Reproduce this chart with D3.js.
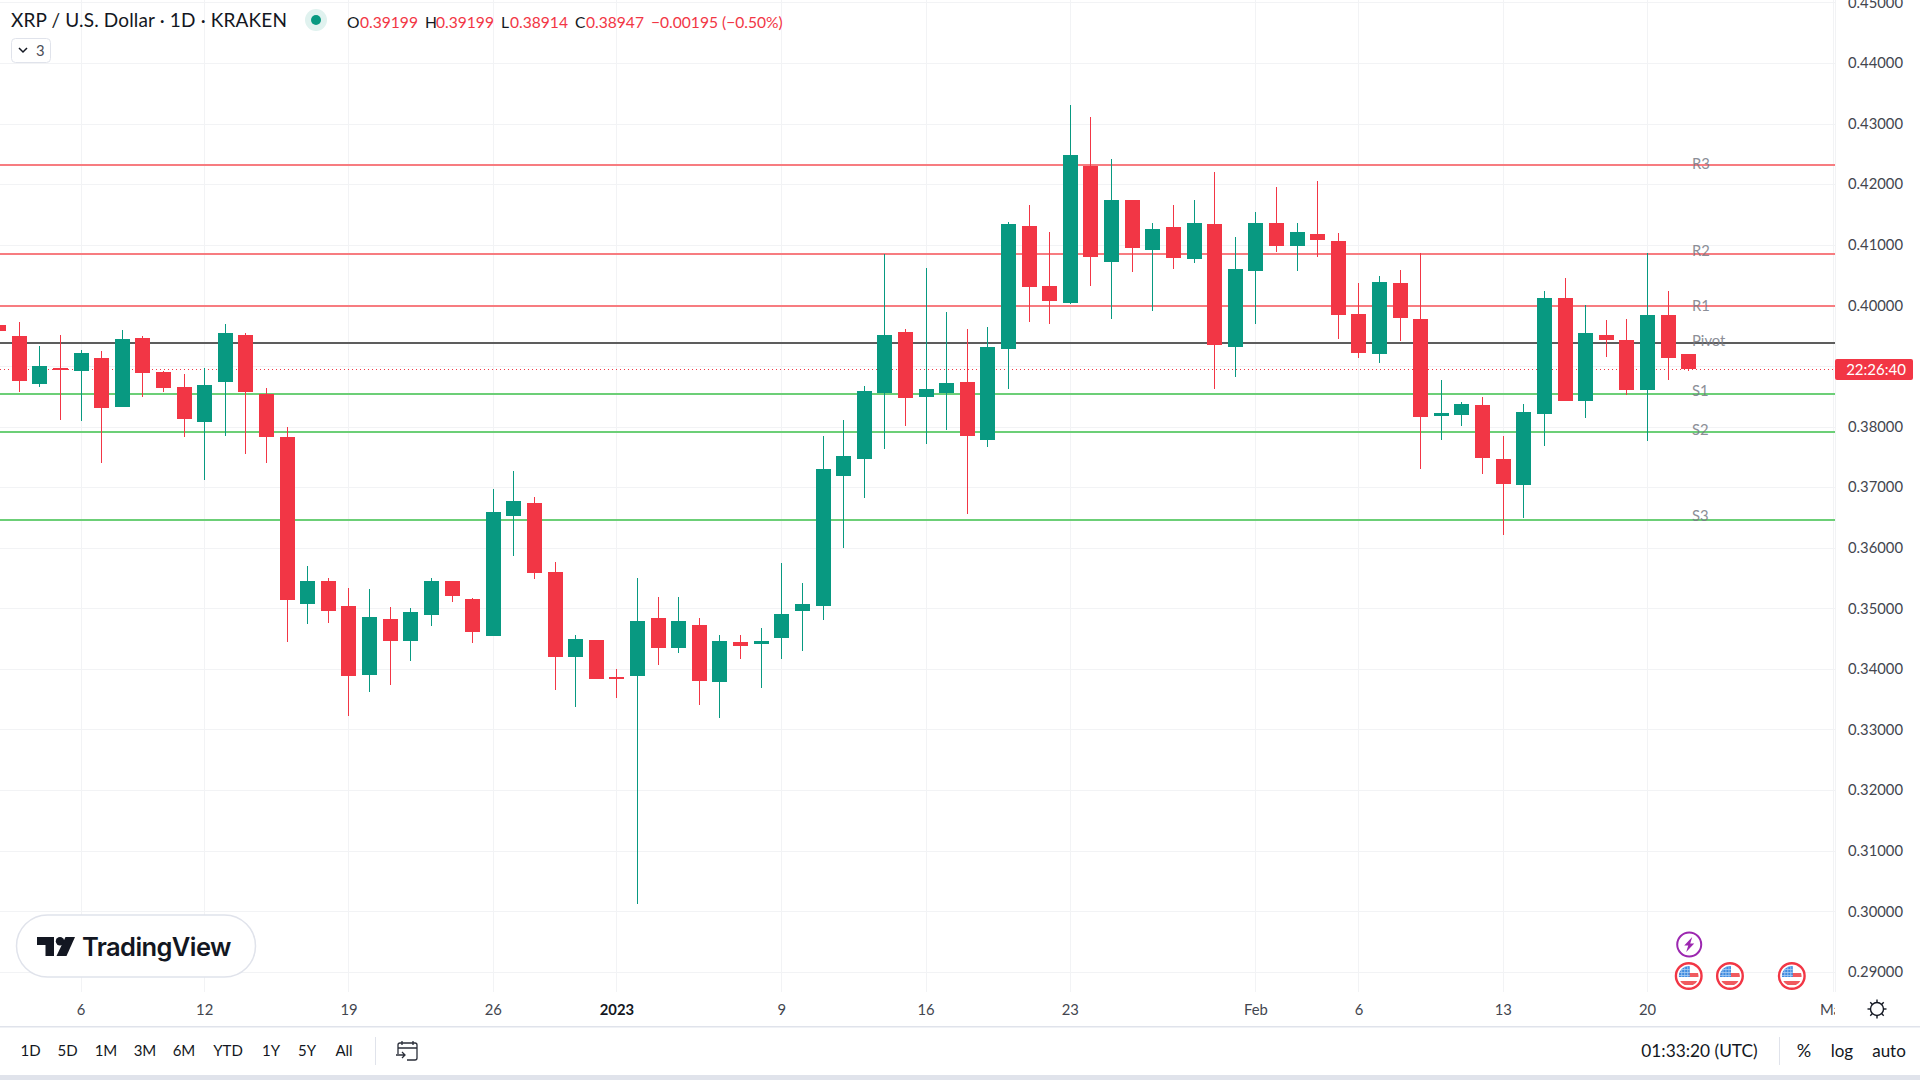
<!DOCTYPE html>
<meta charset="utf-8" />
<html>
<head>
<script src="https://d3js.org/d3.v7.min.js"></script>
<style>
    html, body { margin: 0; padding: 0; background: #fff; overflow: hidden; }
    svg { display: block; }
    text { font-family: "Lato", "Open Sans", sans-serif; fill: #131722; }
    .price text, .time text { fill: #43464f; font-size: 14.8px; }
    .time text.bold { font-weight: 700; fill: #131722; }
    .btn { font-size: 15px; }
</style>
</head>
<body>
<svg id="chart" width="1920" height="1080"></svg>
<script>
// daily candles 2 Dec 2022 .. 22 Feb 2023
const opens = [0.39675,0.39493,0.38701,0.38965,0.38921,0.39130,0.38322,0.39460,0.38899,0.38652,
    0.38074,0.38734,0.39510,0.38536,0.37827,0.35071,0.35451,0.35038,0.33899,0.34823,
    0.34460,0.34889,0.35451,0.35153,0.34543,0.36523,0.36738,0.35599,0.34196,0.34477,
    0.33866,0.33878,0.34832,0.34352,0.34717,0.33780,0.34437,0.34419,0.34504,0.34960,
    0.35045,0.37179,0.37459,0.38553,0.39559,0.38487,0.38553,0.38734,0.37777,0.39279,
    0.41308,0.40318,0.40037,0.42299,0.40714,0.41738,0.40912,0.41292,0.40764,0.41342,
    0.39312,0.40566,0.41358,0.40978,0.41177,0.41061,0.39856,0.39196,0.40368,0.39774,
    0.38173,0.38190,0.38355,0.37464,0.37035,0.38206,0.40120,0.38421,0.39510,0.39427,
    0.38602,0.39840,0.39199];
const highs = [0.39675,0.39724,0.39328,0.39510,0.39262,0.39246,0.39592,0.39493,0.38916,0.38866,
    0.38960,0.39691,0.39543,0.38635,0.37992,0.35698,0.35500,0.35335,0.35318,0.35022,
    0.35005,0.35500,0.35451,0.35170,0.36969,0.37266,0.36837,0.35764,0.34559,0.34477,
    0.34002,0.35507,0.35179,0.35191,0.34844,0.34565,0.34565,0.34680,0.35750,0.35422,
    0.37836,0.38103,0.38663,0.40846,0.39609,0.40615,0.39889,0.39609,0.39642,0.41381,
    0.41655,0.41210,0.43305,0.43107,0.42414,0.41738,0.41358,0.41655,0.41738,0.42200,
    0.41127,0.41540,0.41952,0.41358,0.42051,0.41193,0.40368,0.40483,0.40582,0.40863,
    0.38767,0.38404,0.38487,0.37843,0.38371,0.40236,0.40451,0.40002,0.39757,0.39774,
    0.40858,0.40236,0.39199];
const lows = [0.39576,0.38575,0.38652,0.38107,0.38091,0.37398,0.38322,0.38487,0.38569,0.37827,
    0.37117,0.37843,0.37546,0.37398,0.34444,0.34741,0.34757,0.33223,0.33619,0.33734,
    0.34130,0.34708,0.35104,0.34427,0.34543,0.35863,0.35484,0.33652,0.33371,0.33833,
    0.33520,0.30114,0.34060,0.34255,0.33403,0.33185,0.34157,0.33677,0.34157,0.34303,
    0.34814,0.35999,0.36820,0.37629,0.38008,0.37711,0.37942,0.36559,0.37662,0.38619,
    0.39724,0.39691,0.40021,0.40318,0.39774,0.40549,0.39906,0.40599,0.40698,0.38619,
    0.38817,0.39691,0.40879,0.40566,0.40797,0.39444,0.39130,0.39048,0.39411,0.37299,
    0.37777,0.38008,0.37216,0.36210,0.36490,0.37678,0.38421,0.38140,0.39147,0.38520,
    0.37761,0.38767,0.38914];
const closes = [0.39576,0.38756,0.38998,0.38932,0.39213,0.38305,0.39444,0.38883,0.38636,0.38124,
    0.38685,0.39543,0.38569,0.37827,0.35137,0.35451,0.34955,0.33883,0.34856,0.34460,
    0.34939,0.35451,0.35203,0.34609,0.36589,0.36771,0.35583,0.34196,0.34493,0.33833,
    0.33833,0.34796,0.34352,0.34784,0.33793,0.34467,0.34370,0.34455,0.34911,0.35076,
    0.37295,0.37507,0.38578,0.39510,0.38470,0.38619,0.38718,0.37843,0.39312,0.41341,
    0.40302,0.40071,0.42480,0.40797,0.41738,0.40945,0.41259,0.40781,0.41358,0.39345,
    0.40599,0.41358,0.40978,0.41210,0.41078,0.39840,0.39213,0.40384,0.39790,0.38157,
    0.38223,0.38371,0.37480,0.37051,0.38239,0.40120,0.38421,0.39543,0.39427,0.38602,
    0.39840,0.39130,0.38947];

const priceTicks = [0.29,0.30,0.31,0.32,0.33,0.34,0.35,0.36,0.37,0.38,0.39,0.40,0.41,0.42,0.43,0.44,0.45];
const timeTickDates = ["2022-12-06","2022-12-12","2022-12-19","2022-12-26","2023-01-01","2023-01-09",
    "2023-01-16","2023-01-23","2023-02-01","2023-02-06","2023-02-13","2023-02-20","2023-03-01"];
const timeTickLabels = ["6","12","19","26","2023","9","16","23","Feb","6","13","20","Mar"];

const pivotNames = ["R3","R2","R1","Pivot","S1","S2","S3"];
const pivotValues = [0.42315,0.40846,0.39989,0.39378,0.38537,0.37910,0.36457];
const pivotColors = ["#f77c80","#f77c80","#f77c80","#5d5d5d","#6ccf77","#6ccf77","#6ccf77"];

const lastPrice = 0.38947;
const countdown = "22:26:40";
const flagDates = ["2023-02-22","2023-02-24","2023-02-27"];
const boltDates = ["2023-02-22"];

const rangeButtons = ["1D","5D","1M","3M","6M","YTD","1Y","5Y","All"];
const rangeCenters = [30.5,67.5,106,145,184,228,271,307,344];

const green = "#089981", red = "#f23645", gridColor = "#f2f3f5", borderColor = "#e0e3eb";
const plotW = 1835, plotH = 992;

const parseDay = d3.utcParse("%Y-%m-%d");
const days = d3.utcDay.range(parseDay("2022-12-02"), parseDay("2023-02-23"));

const x = d3.scaleUtc().domain([parseDay("2022-12-06"), parseDay("2023-02-20")]).range([80.5, 1647]);
const y = d3.scaleLinear().domain([0.29, 0.45]).range([971.9, 2.3]);

const svg = d3.select("#chart");
svg.append("defs").append("clipPath").attr("id", "plot")
    .append("rect").attr("width", plotW).attr("height", plotH);
svg.select("defs").append("clipPath").attr("id", "timeclip")
    .append("rect").attr("width", plotW).attr("height", 1080);

const plot = svg.append("g").attr("clip-path", "url(#plot)");

// grid
plot.selectAll(".hgrid").data(priceTicks).enter().append("line")
    .attr("x1", 0).attr("x2", plotW)
    .attr("y1", d => Math.round(y(d)) + 0.5).attr("y2", d => Math.round(y(d)) + 0.5)
    .attr("stroke", gridColor);
plot.selectAll(".vgrid").data(timeTickDates).enter().append("line")
    .attr("y1", 0).attr("y2", plotH)
    .attr("x1", d => Math.round(x(parseDay(d))) + 0.5).attr("x2", d => Math.round(x(parseDay(d))) + 0.5)
    .attr("stroke", gridColor);

// pivot levels, behind the candles
plot.selectAll(".pivot").data(pivotValues).enter().append("line")
    .attr("x1", 0).attr("x2", plotW)
    .attr("y1", d => Math.round(y(d))).attr("y2", d => Math.round(y(d)))
    .attr("stroke", (d, i) => pivotColors[i]).attr("stroke-width", 2);

// last price line
plot.append("line").attr("x1", 0).attr("x2", plotW)
    .attr("y1", Math.round(y(lastPrice)) + 0.5).attr("y2", Math.round(y(lastPrice)) + 0.5)
    .attr("stroke", red).attr("stroke-dasharray", "1 3");

// candles
const bars = plot.append("g").attr("shape-rendering", "crispEdges").selectAll("g").data(days).enter().append("g");
const barColor = (d, i) => closes[i] >= opens[i] ? green : red;
bars.append("line")
    .attr("x1", d => Math.round(x(d)) + 0.5).attr("x2", d => Math.round(x(d)) + 0.5)
    .attr("y1", (d, i) => y(highs[i])).attr("y2", (d, i) => y(lows[i]))
    .attr("stroke", barColor);
bars.append("rect")
    .attr("x", d => Math.round(x(d)) - 7).attr("width", 15)
    .attr("y", (d, i) => y(Math.max(opens[i], closes[i])))
    .attr("height", (d, i) => Math.max(2, y(Math.min(opens[i], closes[i])) - y(Math.max(opens[i], closes[i]))))
    .attr("fill", barColor);

// pivot names, the labels do not sit at a constant distance from their lines
const nameNudge = [4, 2, 5, 3.5, 2, 3, 0.5];
plot.selectAll(".pivotName").data(pivotNames).enter().append("text")
    .attr("x", 1692).attr("y", (d, i) => y(pivotValues[i]) + nameNudge[i])
    .attr("font-size", 14.8).style("fill", "#787b86").style("opacity", 0.85)
    .text(d => d);

// price axis
const priceAxis = svg.append("g").attr("class", "price")
    .attr("transform", "translate(" + plotW + ",0)")
    .call(d3.axisRight(y).tickValues(priceTicks).tickFormat(d3.format(".5f")).tickSize(0).tickPadding(13));
priceAxis.select(".domain").attr("stroke", gridColor).attr("d", "M0.5,0V" + plotH);

// time axis
const timeAxis = svg.append("g").attr("class", "time")
    .attr("clip-path", "url(#timeclip)")
    .attr("transform", "translate(0," + plotH + ")")
    .call(d3.axisBottom(x).tickValues(timeTickDates.map(parseDay))
        .tickFormat((d, i) => timeTickLabels[i]).tickSize(0).tickPadding(12.5));
timeAxis.select(".domain").remove();
timeAxis.selectAll("text").classed("bold", (d, i) => timeTickLabels[i] === "2023");

// countdown tag
svg.append("rect").attr("x", plotW).attr("y", 359).attr("width", 78).attr("height", 21).attr("rx", 2).attr("fill", red);
svg.append("text").attr("x", plotW + 41).attr("y", 374.8).attr("text-anchor", "middle")
    .attr("font-size", 15).style("fill", "#fff").text(countdown);

// event markers
const bolt = svg.selectAll(".bolt").data(boltDates).enter().append("g")
    .attr("transform", d => "translate(" + (x(parseDay(d)) + 1) + ",944.5)");
bolt.append("circle").attr("r", 12).attr("fill", "#fff").attr("stroke", "#9c27b0").attr("stroke-width", 2);
bolt.append("path").attr("d", "M3,-7.5 L-5,1 L-1,1 L-3,7.5 L5,-1 L1,-1 Z").attr("fill", "#9c27b0");

svg.select("defs").append("clipPath").attr("id", "flagclip").append("circle").attr("r", 10);
const flags = svg.selectAll(".flag").data(flagDates).enter().append("g")
    .attr("transform", d => "translate(" + (x(parseDay(d)) + 0.5) + ",976)");
flags.append("circle").attr("r", 12.8).attr("fill", "#fff").attr("stroke", "#f23645").attr("stroke-width", 2.4);
const flagInner = flags.append("g").attr("clip-path", "url(#flagclip)");
flagInner.append("rect").attr("x", -10).attr("y", -3).attr("width", 20).attr("height", 4).attr("fill", "#f05a5f");
flagInner.append("rect").attr("x", -10).attr("y", 5).attr("width", 20).attr("height", 4).attr("fill", "#f05a5f");
flagInner.append("rect").attr("x", -10).attr("y", -10).attr("width", 11).attr("height", 11).attr("fill", "#3d8be0");
flagInner.selectAll("line").data([-7, -4, -1]).enter().append("line")
    .attr("x1", d => d).attr("x2", d => d).attr("y1", -10).attr("y2", 1)
    .attr("stroke", "#a9cdf2").attr("stroke-width", 0.8);
flagInner.selectAll("path").data([-6.5, -3.5, -0.5]).enter().append("path")
    .attr("d", d => "M-10," + d + "H1").attr("stroke", "#a9cdf2").attr("stroke-width", 0.8);

// header
const title = svg.append("g");
title.append("text").attr("x", 11).attr("y", 27).attr("font-size", 19).style("letter-spacing", "0.15px").text("XRP / U.S. Dollar · 1D · KRAKEN");
title.append("circle").attr("cx", 316).attr("cy", 20).attr("r", 11).attr("fill", "#e0f2ef");
title.append("circle").attr("cx", 316).attr("cy", 20).attr("r", 5).attr("fill", green);

const ohlcLabels = ["O","H","L","C"];
const ohlcValues = ["0.39199","0.39199","0.38914","0.38947"];
const ohlcX = [347,425,501,575];
const ohlcValueX = [360,436,510,586];
ohlcLabels.forEach(function(l, i) {
    title.append("text").attr("x", ohlcX[i]).attr("y", 27.5).attr("font-size", 15.6).text(l);
    title.append("text").attr("x", ohlcValueX[i]).attr("y", 27.5).attr("font-size", 15.6).style("fill", red).text(ohlcValues[i]);
});
title.append("text").attr("x", 651).attr("y", 27.5).attr("font-size", 15.6).style("fill", red).text("−0.00195 (−0.50%)");

title.append("rect").attr("x", 11.5).attr("y", 38.5).attr("width", 39).attr("height", 24).attr("rx", 4)
    .attr("fill", "#fff").attr("stroke", borderColor);
title.append("path").attr("d", "M19,48 L23,52 L27,48").attr("fill", "none").attr("stroke", "#131722").attr("stroke-width", 1.5);
title.append("text").attr("x", 36).attr("y", 55.5).attr("font-size", 14.8).style("fill", "#4a4d57").text("3");

// logo
const logo = svg.append("g");
logo.append("rect").attr("x", 16.5).attr("y", 915).attr("width", 239).attr("height", 62).attr("rx", 31)
    .attr("fill", "#fff").attr("stroke", borderColor).attr("stroke-width", 1.5);
logo.append("path").attr("d", "M37,937 H54 V956 H45.5 V945 H37 Z").attr("fill", "#131722");
logo.append("circle").attr("cx", 60).attr("cy", 941.2).attr("r", 4.2).attr("fill", "#131722");
logo.append("path").attr("d", "M65.5,937 H75 L66.5,956 H56.5 Z").attr("fill", "#131722");
logo.append("text").attr("x", 82).attr("y", 956).attr("font-size", 25.5).attr("font-weight", 600)
    .style("font-family", "Inter").style("letter-spacing", "-0.6px").text("TradingView");

// gear
const gear = svg.append("g").attr("transform", "translate(1877,1009)")
    .attr("fill", "none").attr("stroke", "#131722").attr("stroke-width", 1.4);
gear.append("circle").attr("r", 6.5);
gear.selectAll("line").data(d3.range(0, 360, 45)).enter().append("line")
    .attr("y1", -6.5).attr("y2", -9.5).attr("transform", d => "rotate(" + d + ")");

// bottom toolbar
svg.append("rect").attr("x", 0).attr("y", 1026).attr("width", 1920).attr("height", 1.5).attr("fill", borderColor);
svg.append("rect").attr("x", 0).attr("y", 1075).attr("width", 1920).attr("height", 5).attr("fill", borderColor);
svg.append("rect").attr("x", 375).attr("y", 1037).attr("width", 1).attr("height", 28).attr("fill", borderColor);
svg.append("rect").attr("x", 1779).attr("y", 1037).attr("width", 1).attr("height", 28).attr("fill", borderColor);

svg.selectAll(".rangeBtn").data(rangeButtons).enter().append("text").attr("class", "btn")
    .attr("x", (d, i) => rangeCenters[i]).attr("y", 1056).attr("text-anchor", "middle").text(d => d);

const cal = svg.append("g").attr("fill", "none").attr("stroke", "#2a2e39").attr("stroke-width", 1.3);
cal.append("path").attr("d", "M398,1054 V1045 Q398,1043 400,1043 H415 Q417,1043 417,1045 V1058 Q417,1060 415,1060 H407");
cal.append("path").attr("d", "M398,1048 H417 M402,1041 V1045 M413,1041 V1045");
cal.append("path").attr("d", "M396,1055 H405 M402,1052 L405,1055 L402,1058");

svg.append("text").attr("class", "btn").attr("x", 1699.5).attr("y", 1056.5).attr("text-anchor", "middle")
    .style("font-size", "17.3px").text("01:33:20 (UTC)");
svg.append("text").attr("class", "btn").attr("x", 1804).attr("y", 1056.5).attr("text-anchor", "middle").style("font-size", "18px").text("%");
svg.append("text").attr("class", "btn").attr("x", 1842).attr("y", 1056.5).attr("text-anchor", "middle").style("font-size", "17px").text("log");
svg.append("text").attr("class", "btn").attr("x", 1889).attr("y", 1056.5).attr("text-anchor", "middle").style("font-size", "17px").text("auto");
</script>
</body>
</html>
